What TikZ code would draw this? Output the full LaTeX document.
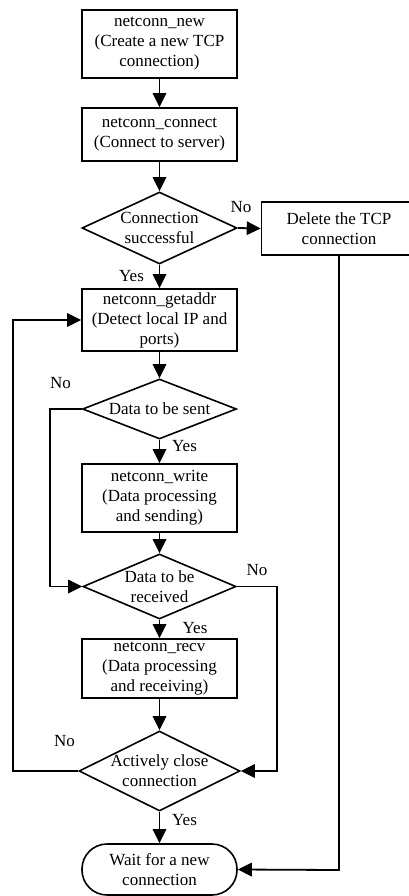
\documentclass[tikz,border=0pt]{standalone}
\usepackage{fontspec}
\setmainfont{Liberation Serif}
\usetikzlibrary{arrows.meta,shapes.geometric}
\begin{document}
\begin{tikzpicture}[x=1pt,y=-1pt,
  every node/.style={font=\fontsize{17}{20}\selectfont, align=center, inner sep=0pt},
  box/.style={draw, line width=1.6pt, minimum width=155pt},
  diam/.style={draw, diamond, line width=1.6pt, minimum width=155pt},
  term/.style={draw, line width=1.6pt, minimum width=155pt, minimum height=51pt, rounded corners=25pt},
  conn/.style={line width=1.8pt, -{Triangle[length=14pt,width=13.5pt]}},
  lbl/.style={}
]
\useasboundingbox (0,0) rectangle (408,896);
% process boxes
\node[box, minimum height=68pt] (b1) at (159.5,44) {netconn\_new\\(Create a new TCP\\connection)};
\node[box, minimum height=53pt] (b2) at (159.5,134.5) {netconn\_connect\\(Connect to server)};
\node[diam, minimum height=72pt] (d1) at (159.5,228) {};
\node (t1) at (d1.center) {Connection\\successful};
\node[box, minimum height=53pt] (del) at (339,228.5) {Delete the TCP\\connection};
\node[box, minimum height=62pt] (b3) at (159.5,320) {netconn\_getaddr\\(Detect local IP and\\ports)};
\node[diam, minimum width=154pt, minimum height=60pt] (d2) at (159.5,409) {};
\node (t2) at (d2.center) {Data to be sent};
\node[box, minimum height=68pt] (b4) at (159.5,498) {netconn\_write\\(Data processing\\and sending)};
\node[diam, minimum width=153pt, minimum height=65pt] (d3) at (159.5,586.5) {};
\node (t3) at (d3.center) {Data to be\\received};
\node[box, minimum height=59pt] (b5) at (159.5,668.5) {netconn\_recv\\(Data processing\\and receiving)};
\node[diam, minimum width=161pt, minimum height=80pt] (d4) at (159.5,771) {};
\node (t4) at (d4.center) {Actively close\\connection};
\node[term] (end) at (159.5,869.5) {Wait for a new\\connection};
% connectors
\draw[conn] (b1.south) -- (b2.north);
\draw[conn] (b2.south) -- (d1.north);
\draw[conn] (d1.east) -- (del.west);
\draw[conn] (d1.south) -- (b3.north);
\draw[conn] (b3.south) -- (d2.north);
\draw[conn] (d2.south) -- (b4.north);
\draw[conn] (d2.west) -- (50,409) -- (50,586.5) -- (d3.west);
\draw[conn] (b4.south) -- (d3.north);
\draw[conn] (d3.south) -- (b5.north);
\draw[conn] (d3.east) -- (277,586.5) -- (277,771) -- (d4.east);
\draw[conn] (b5.south) -- (d4.north);
\draw[conn] (d4.west) -- (13,771) -- (13,320) -- (b3.west);
\draw[conn] (d4.south) -- (end.north);
\draw[conn] (del.south) -- (339,870) -- (end.east);
% labels
\node[lbl] at (241,207) {No};
\node[lbl] at (131.5,276) {Yes};
\node[lbl] at (60.5,383) {No};
\node[lbl] at (184.5,446) {Yes};
\node[lbl] at (257,570) {No};
\node[lbl] at (195,628) {Yes};
\node[lbl] at (64.5,741) {No};
\node[lbl] at (184.5,820) {Yes};
\end{tikzpicture}
\end{document}
